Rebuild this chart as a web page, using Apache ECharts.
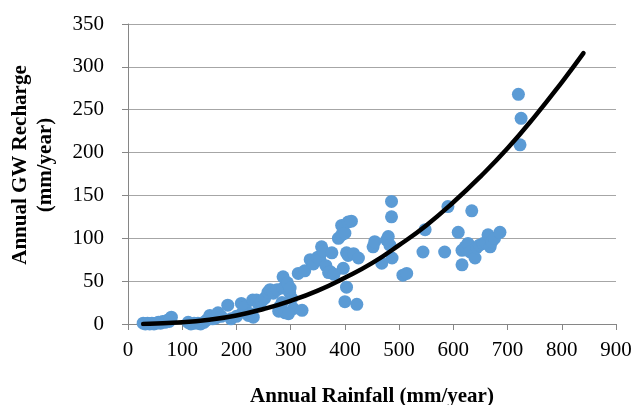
<!DOCTYPE html>
<html>
<head>
<meta charset="utf-8">
<script src="https://cdn.jsdelivr.net/npm/echarts@6/dist/echarts.min.js"></script>
<style>
html, body { margin: 0; padding: 0; background: #fff; }
#main { width: 632px; height: 405px; }
</style>
</head>
<body>
<div id="main"></div>
<script>
// observed points: [rainfall, recharge]
var obsPoints = [
  [28,1],[32,0],[36,1],[40,0],[44,1],[48,0],[52,1],[56,2],[60,1],[64,3],[68,2],[72,4],[76,3],[80,8],[78,6],
  [111,2],[116,0],[122,1],[129,1],[134,0],[140,2],[146,5],[151,10],[156,6],[162,7],[166,13],[172,9],
  [184,22],[190,6],[200,9],[209,24],[212,14],[216,20],[222,10],[226,12],[231,8],[230,28],[237,28],[242,22],[246,26],
  [252,30],[258,37],[262,40],[268,36],[275,40],[280,20],[278,15],[284,25],[286,55],[286,42],[290,13],[294,48],
  [298,37],[299,42],[302,30],[305,18],[296,12],[321,16],
  [314,59],[326,62],[336,75],[342,70],[350,78],[354,75],[357,90],[360,85],[365,68],[370,60],[373,61],[376,83],
  [380,58],[388,100],[394,104],[394,115],[397,65],[400,106],[400,26],[403,83],[403,43],[406,119],[406,80],
  [412,120],[416,82],[422,23],[425,77],
  [452,90],[455,96],[468,71],[477,98],[480,102],[483,92],[487,77],[486,143],[486,125],[507,57],[514,59],
  [544,84],[548,110],[584,84],[590,137],
  [609,107],[616,69],[616,86],[622,90],[627,94],[631,84],[634,132],[640,77],[643,89],[648,92],[655,94],
  [660,95],[664,104],[668,90],[671,96],[676,100],[686,107],
  [720,268],[725,240],[723,209]
];
// trend curve
var trendX = [28, 100, 150, 200, 250, 300, 350, 400, 450, 500, 550, 600, 650, 700, 750, 800, 840];
var trendY = [0.1, 2, 5, 10, 17.5, 27, 39, 54, 71, 92, 115, 142, 172, 205, 242, 282, 316];

var trendData = [];
for (var i = 0; i < trendX.length; i++) {
    trendData.push([trendX[i], trendY[i]]);
}

var myChart = echarts.init(document.getElementById('main'));
var font = '"Liberation Serif", "Times New Roman", serif';
var option = {
    animation: false,
    textStyle: { fontFamily: font },
    grid: { left: 128, right: 16, top: 24, bottom: 81, containLabel: false, outerBoundsMode: 'none' },
    xAxis: {
        type: 'value',
        min: 0, max: 900, interval: 100,
        name: 'Annual Rainfall (mm/year)',
        nameLocation: 'middle',
        nameGap: 62,
        nameTextStyle: { fontFamily: font, fontSize: 21, fontWeight: 'bold', color: '#000' },
        axisLine: { show: true, lineStyle: { color: '#868686', width: 1 } },
        axisTick: { show: true, length: 6, lineStyle: { color: '#868686' } },
        axisLabel: { fontFamily: font, fontSize: 21, color: '#000', margin: 16 },
        splitLine: { show: false }
    },
    yAxis: {
        type: 'value',
        min: 0, max: 350, interval: 50,
        name: 'Annual GW Recharge\n(mm/year)',
        nameLocation: 'middle',
        nameRotate: 90,
        nameGap: 70,
        nameTextStyle: { fontFamily: font, fontSize: 21, fontWeight: 'bold', color: '#000', lineHeight: 25, padding: [0, 0, 0, 18] },
        axisLine: { show: true, lineStyle: { color: '#868686', width: 1 } },
        axisTick: { show: true, length: 6, lineStyle: { color: '#868686' } },
        axisLabel: { fontFamily: font, fontSize: 21, color: '#000', margin: 24 },
        splitLine: { show: true, lineStyle: { color: '#a6a6a6', width: 1 } }
    },
    series: [
        {
            name: 'observed',
            type: 'scatter',
            symbolSize: 13,
            itemStyle: { color: '#5b9bd5', opacity: 1 },
            data: obsPoints,
            z: 2
        },
        {
            name: 'trend',
            type: 'line',
            smooth: true,
            showSymbol: false,
            lineStyle: { color: '#000', width: 4.5, cap: 'round' },
            data: trendData,
            z: 3
        }
    ]
};
myChart.setOption(option);
</script>
</body>
</html>
